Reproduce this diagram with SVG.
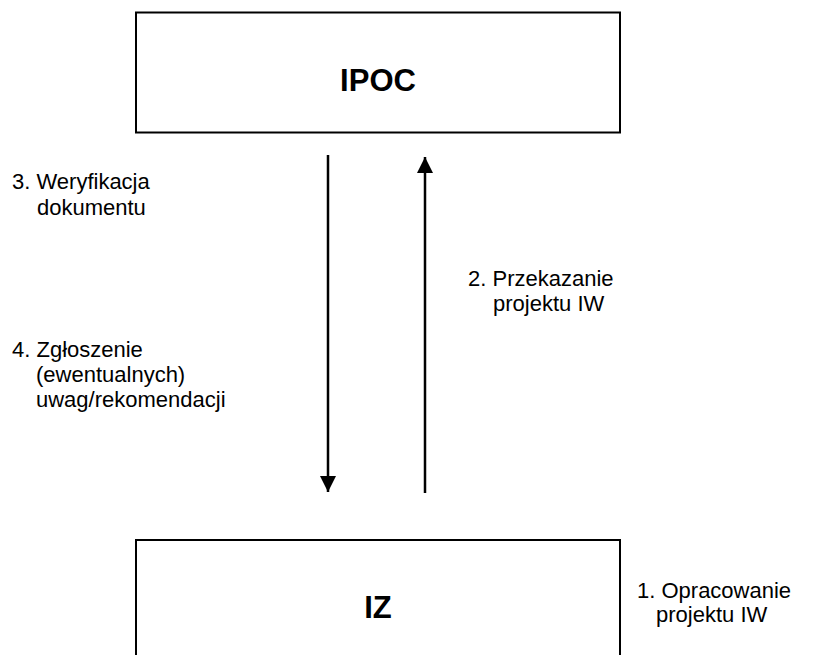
<svg xmlns="http://www.w3.org/2000/svg" width="830" height="655" viewBox="0 0 830 655">
<defs>
<style>
.box{fill:#fff;stroke:#000;stroke-width:2}
.title{font-family:"Liberation Sans",Arial,sans-serif;font-weight:bold;font-size:31px;text-anchor:middle;fill:#000}
.lbl{font-family:"Liberation Sans",Arial,sans-serif;font-size:22px;fill:#000}
.conn{stroke:#000;stroke-width:2.5;fill:none}
</style>
<marker id="ah" viewBox="0 0 16 16" refX="16" refY="8" markerWidth="16" markerHeight="16" markerUnits="userSpaceOnUse" orient="auto">
<path d="M0,0 L16,8 L0,16 Z" fill="#000"/>
</marker>
</defs>
<rect width="830" height="655" fill="#fff"/>
<g id="ipoc">
<rect class="box" x="136" y="12.5" width="484" height="120"/>
<text class="title" x="378" y="91">IPOC</text>
</g>
<g id="iz">
<rect class="box" x="136" y="540" width="484" height="130"/>
<text class="title" x="378" y="618">IZ</text>
</g>
<g id="connectors">
<line class="conn" x1="328" y1="155" x2="328" y2="492" marker-end="url(#ah)"/>
<line class="conn" x1="425" y1="493" x2="425" y2="157" marker-end="url(#ah)"/>
</g>
<g id="labels">
<text class="lbl" x="12" y="189">3. Weryfikacja</text>
<text class="lbl" x="37" y="215">dokumentu</text>
<text class="lbl" x="468" y="286">2. Przekazanie</text>
<text class="lbl" x="493" y="311">projektu IW</text>
<text class="lbl" x="12" y="357">4. Zgłoszenie</text>
<text class="lbl" x="36" y="382">(ewentualnych)</text>
<text class="lbl" x="36" y="407">uwag/rekomendacji</text>
<text class="lbl" x="637" y="598">1. Opracowanie</text>
<text class="lbl" x="656" y="622">projektu IW</text>
</g>
</svg>
